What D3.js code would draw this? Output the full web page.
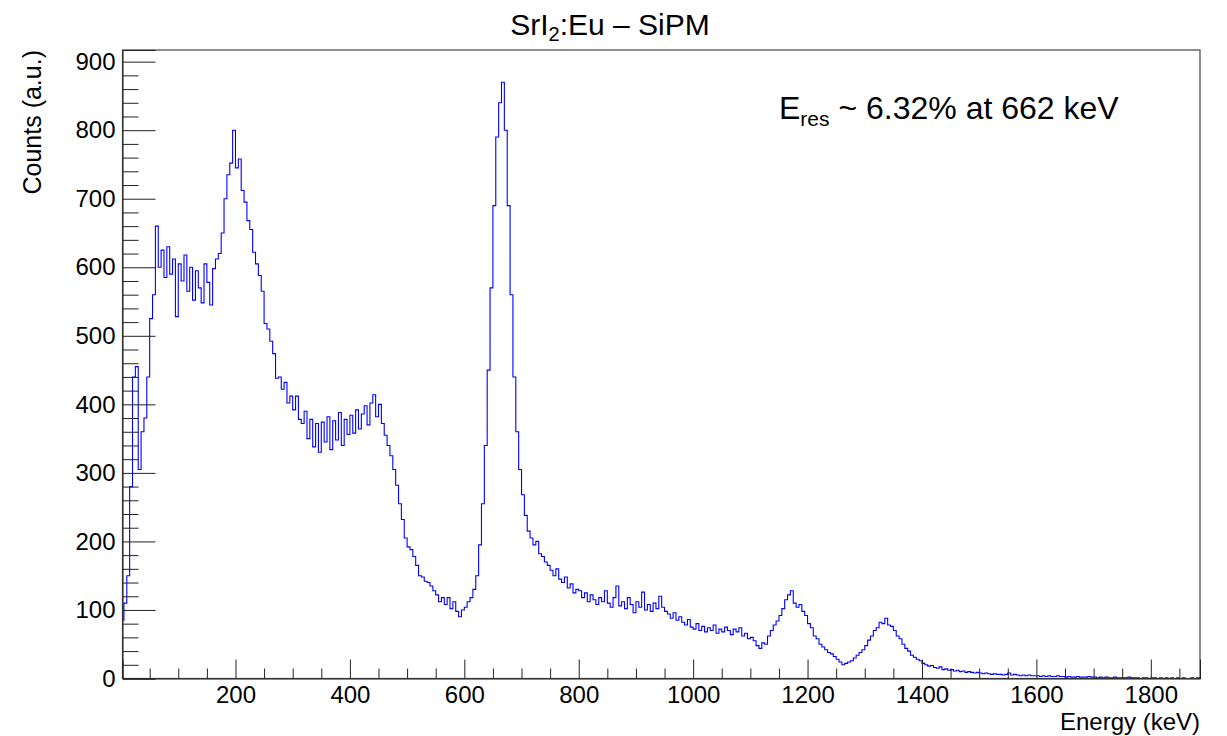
<!DOCTYPE html>
<html>
<head>
<meta charset="utf-8">
<script src="https://cdn.jsdelivr.net/npm/d3@7"></script>
<style>
  body { margin: 0; background: #fff; }
  text { font-family: "Liberation Sans", Arial, Helvetica, sans-serif; }
</style>
</head>
<body>
<div class="hist"></div>
<script>
// GLOBAL CONSTANTS
const FRAME_WIDTH = 1227;
const FRAME_HEIGHT = 736;
const MARGINS = {left: 122.5, right: 27, top: 50, bottom: 57.5};

const GRAPH_WIDTH = FRAME_WIDTH - MARGINS.left - MARGINS.right;
const GRAPH_HEIGHT = FRAME_HEIGHT - MARGINS.top - MARGINS.bottom;

// DATA
const BIN_WIDTH = 5;      // keV per bin
const X_RANGE = [2.5, 1886];
const Y_RANGE = [0, 917];
const X_TICKS = [200, 400, 600, 800, 1000, 1200, 1400, 1600, 1800];
const Y_TICKS = [0, 100, 200, 300, 400, 500, 600, 700, 800, 900];

// counts per 5 keV bin, starting at 0 keV (one row = 100 keV)
const COUNTS = [
  85,110,150,280,440,455,305,360,380,440,525,560,660,600,625,585,630,590,612,528,
  605,580,618,565,600,552,595,570,548,605,578,545,598,612,620,650,700,735,752,800,
  745,758,712,695,668,655,622,605,588,565,518,510,492,474,438,440,422,432,402,412,
  392,412,378,372,390,350,378,338,372,330,374,345,382,334,376,348,388,340,378,356,
  384,358,392,364,386,398,370,402,414,382,400,372,355,340,325,305,282,255,232,205,
  192,188,178,165,150,148,142,140,135,128,122,112,118,108,118,102,112,98,90,100,
  104,112,118,130,150,195,255,340,450,570,690,790,840,870,800,690,560,440,360,305,
  268,238,215,205,195,200,182,178,170,165,158,150,160,145,140,148,132,138,125,130,
  128,118,125,112,122,115,108,118,112,128,110,104,118,135,106,112,102,118,108,96,
  112,104,126,100,108,98,110,102,120,104,98,94,88,96,85,90,82,78,86,75,
  72,80,70,76,68,74,70,78,66,72,68,75,70,64,72,68,74,62,66,58,
  60,55,48,44,52,50,62,70,78,84,92,102,115,122,128,110,104,108,98,92,
  80,74,62,58,50,46,42,38,36,32,28,24,20,22,24,26,30,34,38,42,
  48,56,62,70,74,82,80,88,78,76,70,62,58,50,44,40,34,31,28,26,
  22,20,18,19,16,15,17,13,14,12,13,11,12,10,11,9,10,9,8,9,
  8,7,8,7,6,7,6,6,5,6,8,5,6,5,4,5,4,5,4,4,
  4,3,4,3,4,3,3,4,3,3,2,3,2,2,3,2,2,2,3,2,
  2,1,2,1,2,1,1,2,1,1,1,1,2,1,1,1,0,1,1,0,
  1,1,0,1,0,1,0,1,0,1,0,1,0,0,1,0,1,0
];

const TITLE_MAIN = "SrI";
const TITLE_SUB = "2";
const TITLE_REST = ":Eu \u2013 SiPM";
const NOTE_MAIN = "E";
const NOTE_SUB = "res";
const NOTE_REST = " ~ 6.32% at 662 keV";
const X_LABEL = "Energy (keV)";
const Y_LABEL = "Counts (a.u.)";

const FRAME = d3.select(".hist")
                .append("svg")
                  .attr("width", FRAME_WIDTH)
                  .attr("height", FRAME_HEIGHT);

const X_SCALE = d3.scaleLinear()
                  .domain(X_RANGE)
                  .range([0, GRAPH_WIDTH]);

const Y_SCALE = d3.scaleLinear()
                  .domain(Y_RANGE)
                  .range([GRAPH_HEIGHT, 0]);

const G = FRAME.append("g")
               .attr("transform", "translate(" + MARGINS.left + "," + MARGINS.top + ")");

G.append("clipPath")
   .attr("id", "clip")
 .append("rect")
   .attr("width", GRAPH_WIDTH)
   .attr("height", GRAPH_HEIGHT);

// HISTOGRAM (step outline, like ROOT)
const steps = COUNTS.map((c, i) => [i * BIN_WIDTH, c]);
steps.push([COUNTS.length * BIN_WIDTH, COUNTS[COUNTS.length - 1]]);

const line = d3.line()
               .x((d) => X_SCALE(d[0]))
               .y((d) => Y_SCALE(d[1]))
               .curve(d3.curveStepAfter);

G.append("path")
   .datum(steps)
   .attr("clip-path", "url(#clip)")
   .attr("d", line)
   .attr("fill", "none")
   .attr("stroke", "#0000ff")
   .attr("stroke-width", 1.1);

// FRAME BOX
G.append("rect")
   .attr("width", GRAPH_WIDTH)
   .attr("height", GRAPH_HEIGHT)
   .attr("fill", "none")
   .attr("stroke", "#444")
   .attr("stroke-width", 1.2);

// X AXIS (ticks pointing up, inside frame)
const xMinor = d3.range(50, X_RANGE[1], 50).filter((v) => v % 200 !== 0);
G.append("g")
   .attr("transform", "translate(0," + GRAPH_HEIGHT + ")")
   .call(d3.axisBottom(X_SCALE).tickValues(xMinor).tickSize(-10).tickFormat(""))
   .call((g) => g.select(".domain").remove());

G.append("g")
   .attr("transform", "translate(0," + GRAPH_HEIGHT + ")")
   .call(d3.axisBottom(X_SCALE).tickValues(X_TICKS).tickSize(-19).tickFormat(d3.format("d")))
   .call((g) => g.select(".domain").attr("stroke", "#222"))
   .selectAll("text")
     .attr("y", 7)
     .attr("font-size", "24px")
     .attr("fill", "#000");

// Y AXIS (ticks pointing right, inside frame)
const yMinor = d3.range(20, Y_RANGE[1], 20).filter((v) => v % 100 !== 0);
G.append("g")
   .call(d3.axisLeft(Y_SCALE).tickValues(yMinor).tickSize(-16).tickFormat(""))
   .call((g) => g.select(".domain").remove());

G.append("g")
   .call(d3.axisLeft(Y_SCALE).tickValues(Y_TICKS).tickSize(-33).tickFormat(d3.format("d")))
   .call((g) => g.select(".domain").attr("stroke", "#222"))
   .selectAll("text")
     .attr("x", -7)
     .attr("font-size", "24px")
     .attr("fill", "#000");

G.selectAll(".tick line").attr("stroke", "#222");

// TITLE
const title = FRAME.append("text")
                   .attr("x", 610)
                   .attr("y", 35)
                   .attr("text-anchor", "middle")
                   .attr("font-size", "30px");
title.append("tspan").text(TITLE_MAIN);
title.append("tspan").attr("dy", 6).attr("font-size", "20px").text(TITLE_SUB);
title.append("tspan").attr("dy", -6).text(TITLE_REST);

// ANNOTATION
const note = FRAME.append("text")
                  .attr("x", 779)
                  .attr("y", 119)
                  .attr("font-size", "32px");
note.append("tspan").text(NOTE_MAIN);
note.append("tspan").attr("dy", 7).attr("font-size", "21px").text(NOTE_SUB);
note.append("tspan").attr("dy", -7).text(NOTE_REST);

// AXIS LABELS
FRAME.append("text")
     .attr("x", MARGINS.left + GRAPH_WIDTH)
     .attr("y", 730)
     .attr("text-anchor", "end")
     .attr("font-size", "24px")
     .text(X_LABEL);

FRAME.append("text")
     .attr("transform", "translate(41," + MARGINS.top + ") rotate(-90)")
     .attr("text-anchor", "end")
     .attr("font-size", "25px")
     .text(Y_LABEL);
</script>
</body>
</html>
